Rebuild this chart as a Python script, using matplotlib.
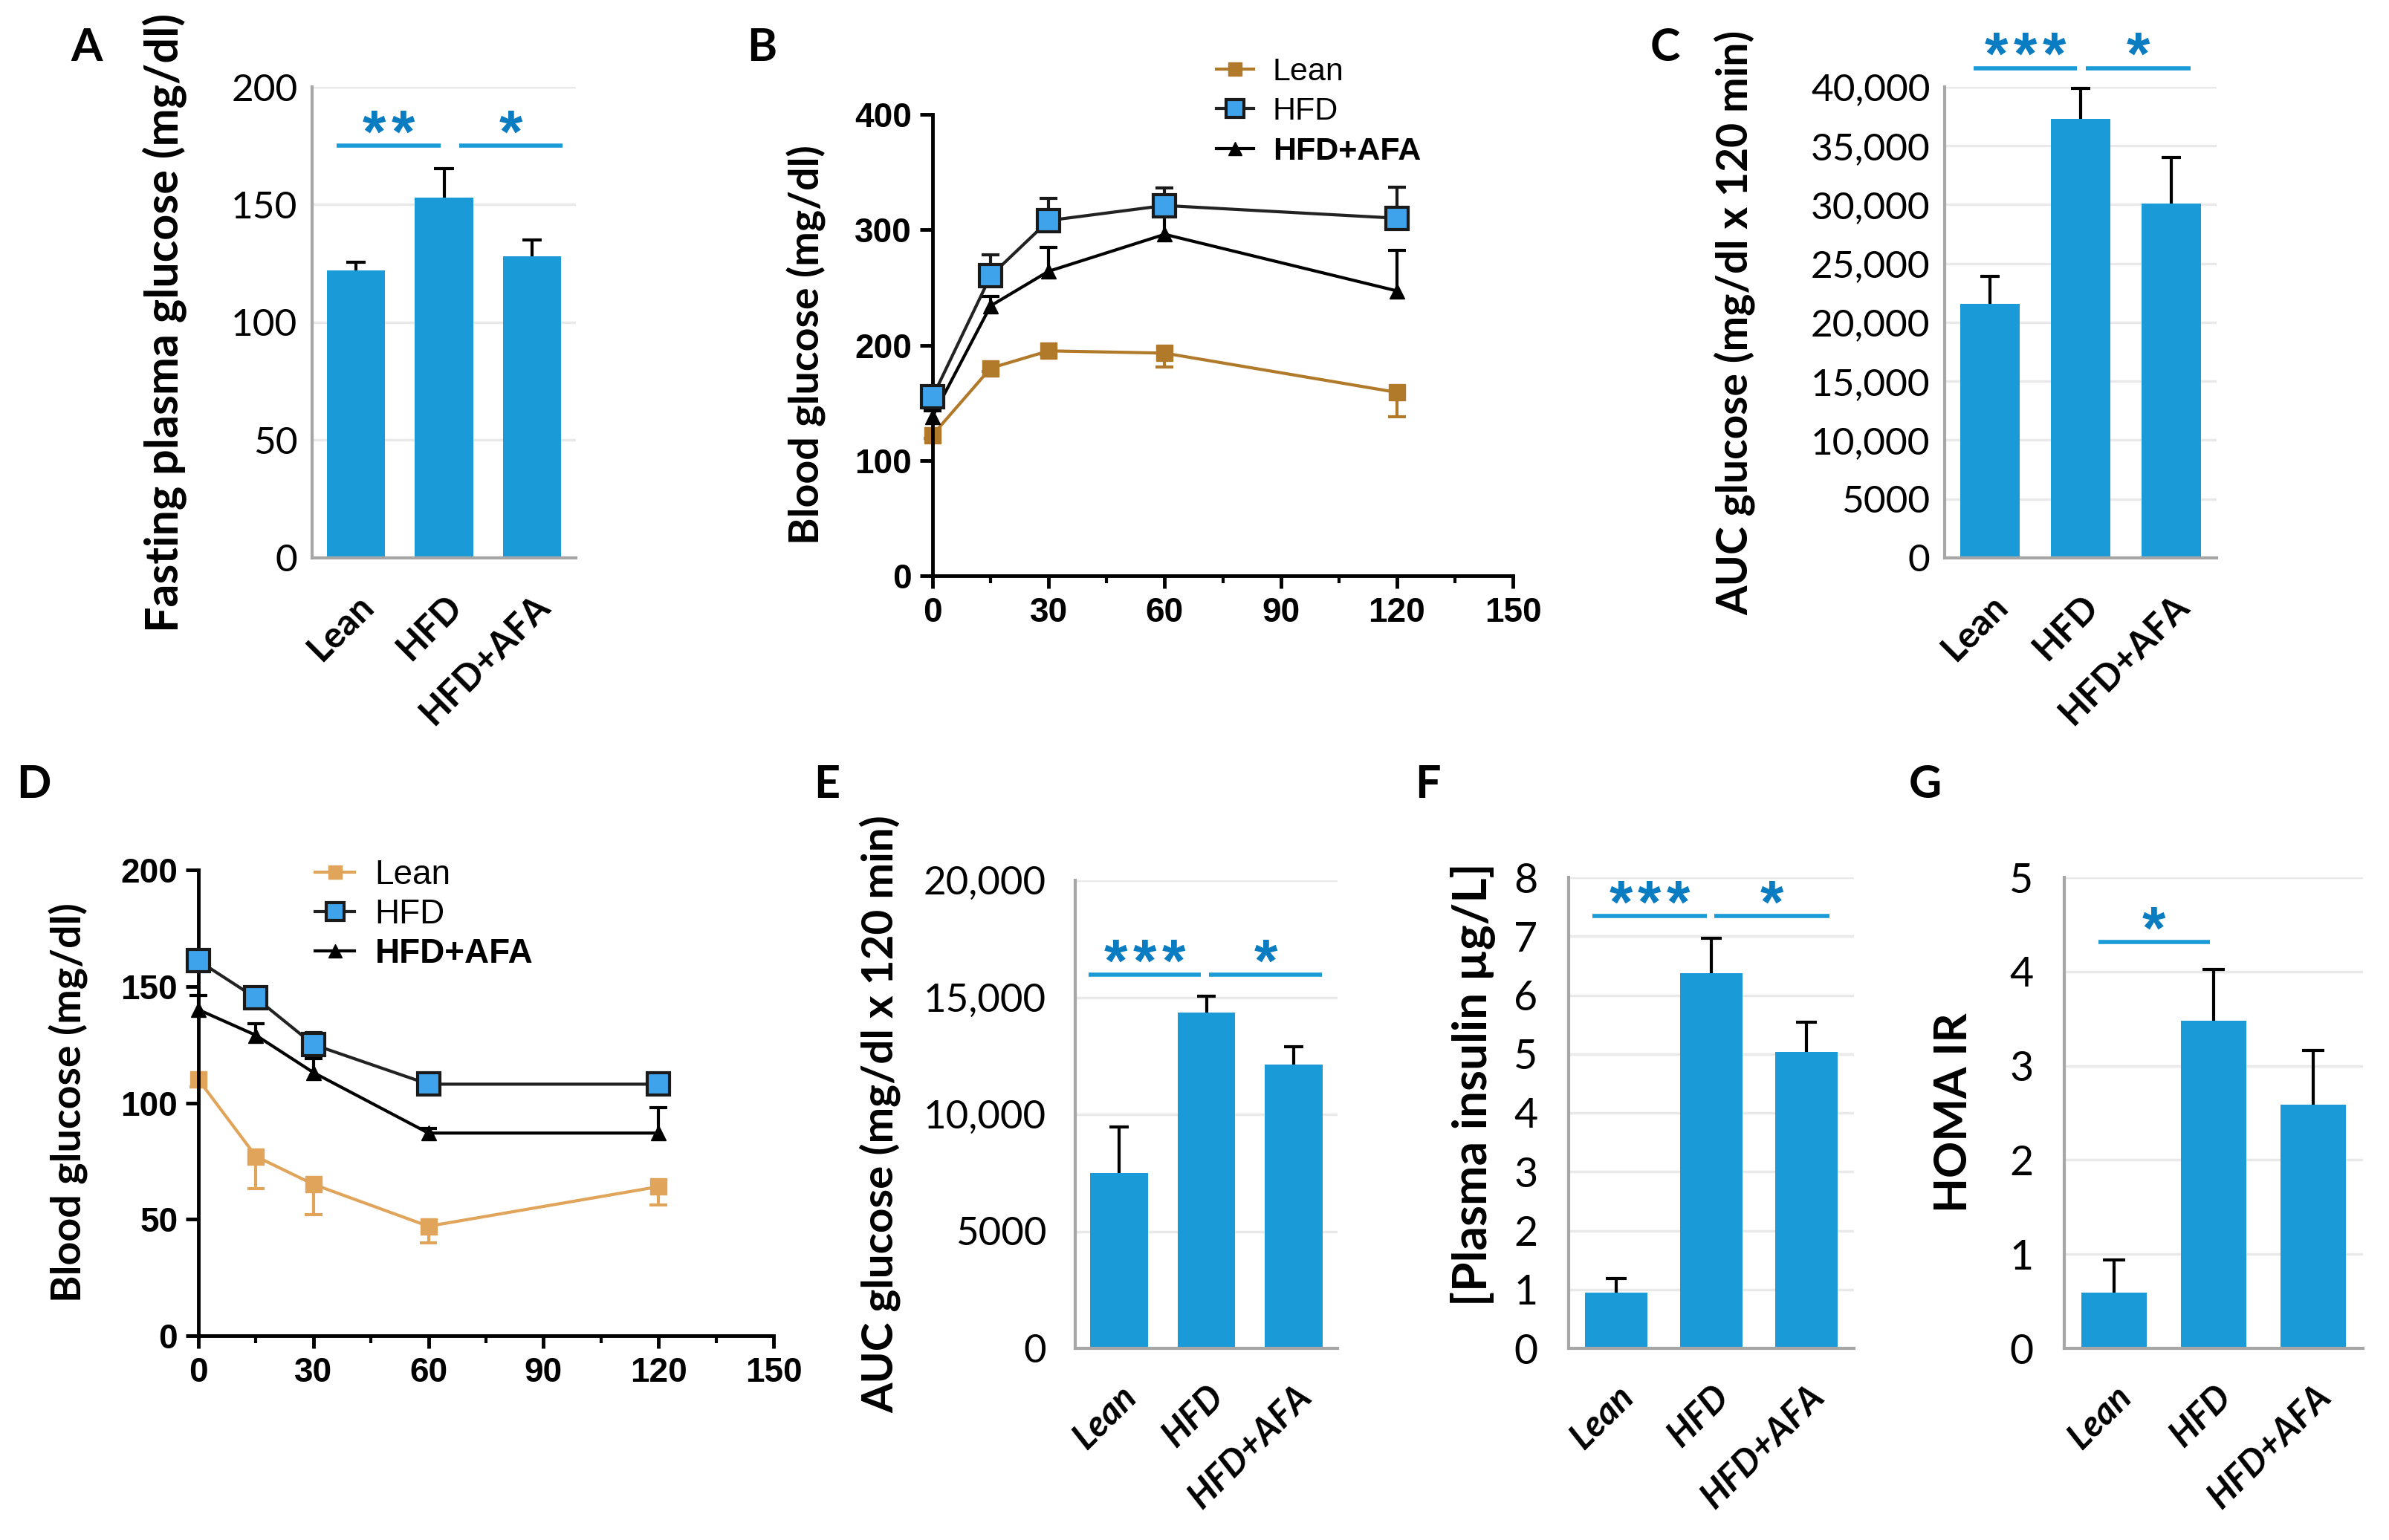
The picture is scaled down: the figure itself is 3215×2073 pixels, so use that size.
import numpy as np
import matplotlib.pyplot as plt
from matplotlib.ticker import MultipleLocator

W, H = 3215, 2073

groups = ["Lean", "HFD", "HFD+AFA"]
bar_blue = "#1a9ad7"
star_blue = "#0a7cc1"

# panel A: fasting plasma glucose
fpg = [122, 153, 128]
fpg_err = [3.5, 12.3, 7]

# panel B: glucose tolerance test
t = [0, 15, 30, 60, 120]
gtt_lean = [122, 180, 195, 193, 159]
gtt_lean_err = [3, 3, 3, 12, 21]
gtt_hfd = [155, 260, 308, 321, 310]
gtt_hfd_err = [3, 18, 19, 15, 27]
gtt_afa = [138, 234, 264, 296, 247]
gtt_afa_err = [5, 8, 21, 20, 35]

# panel C: AUC of GTT
auc_gtt = [21550, 37280, 30100]
auc_gtt_err = [2370, 2610, 3900]

# panel D: insulin tolerance test
itt_lean = [110, 77, 65, 47, 64]
itt_lean_err = [3, 14, 13, 7, 8]
itt_hfd = [161, 145, 125, 108, 108]
itt_hfd_err = [3, 2, 5, 3, 2]
itt_afa = [140, 129, 113, 87, 87]
itt_afa_err = [6, 5, 6, 2, 11]

# panel E: AUC of ITT
auc_itt = [7500, 14340, 12130]
auc_itt_err = [1960, 710, 770]

# panel F: plasma insulin
insulin = [0.95, 6.37, 5.03]
insulin_err = [0.24, 0.59, 0.51]

# panel G: HOMA IR
homa = [0.59, 3.48, 2.59]
homa_err = [0.35, 0.54, 0.57]

fig = plt.figure(figsize=(W / 100, H / 100), dpi=100)

CAL = ["Lato", "DejaVu Sans"]
ARIAL = ["Liberation Sans", "DejaVu Sans"]


def px_axes(l, t_, r, b):
    return fig.add_axes([l / W, 1 - b / H, (r - l) / W, (b - t_) / H])


def letter(x, y, s):
    fig.text(x / W, 1 - y / H, s, fontsize=44, fontweight="bold", family=CAL,
             ha="center", va="center")


def one_sided(ax, x, y, err, half, color, up=True, z=3):
    # error bar drawn on one side only, cap at the far end
    x = np.asarray(x, float)
    y = np.asarray(y, float)
    err = np.asarray(err, float)
    end = y + err if up else y - err
    ax.vlines(x, y, end, color=color, lw=3, zorder=z, clip_on=False)
    ax.hlines(end, x - half, x + half, color=color, lw=3, zorder=z, clip_on=False)


def bar_panel(rect, vals, errs, ymax, step, fmt, ylabel, ylab_x, sigs,
              tick_size=37, ypad=14, ylab_size=44, ylab_y=0.5, xlab_style="normal"):
    ax = px_axes(*rect)
    x = np.arange(len(groups))
    ax.bar(x, vals, width=0.66, color=bar_blue, zorder=2)
    one_sided(ax, x, vals, errs, 0.11, "black")
    ax.set_xlim(-0.5, 2.5)
    ax.set_ylim(0, ymax)
    ticks = np.arange(0, ymax + step / 2, step)
    ax.set_yticks(ticks)
    ax.set_yticklabels([fmt(v) for v in ticks], fontsize=tick_size, family=CAL)
    ax.set_xticks(x)
    ax.set_xticklabels(groups, rotation=45, ha="right", rotation_mode="anchor",
                       fontsize=35, fontweight="bold", family=CAL, style=xlab_style)
    ax.tick_params(axis="both", length=0)
    ax.tick_params(axis="x", pad=30)
    ax.tick_params(axis="y", pad=ypad)
    ax.yaxis.grid(True, color="#e9e9e9", lw=2.5)
    ax.set_axisbelow(True)
    for s in ["top", "right"]:
        ax.spines[s].set_visible(False)
    for s in ["left", "bottom"]:
        ax.spines[s].set_color("#a6a6a6")
        ax.spines[s].set_linewidth(3)
    ax.set_ylabel(ylabel, fontsize=ylab_size, fontweight="bold", family=CAL)
    ax.yaxis.set_label_coords((ylab_x - rect[0]) / (rect[2] - rect[0]), ylab_y)
    for x0, x1, y, nstars in sigs:
        ax.plot([x0, x1], [y, y], color=bar_blue, lw=4, clip_on=False, solid_capstyle="butt")
        for i in range(nstars):
            ax.annotate("*", xy=((x0 + x1) / 2, y),
                        xytext=((i - (nstars - 1) / 2) * 28, -6), textcoords="offset points",
                        color=star_blue, fontsize=58, fontweight="bold", family=ARIAL,
                        ha="center", va="baseline", annotation_clip=False)
    return ax


def line_panel(rect, ymax, ystep, lean, lean_err, hfd, hfd_err, afa, afa_err,
               lean_col, ylabel, ylab_x, leg_pos, leg_size, spacing):
    ax = px_axes(*rect)
    one_sided(ax, t, lean, lean_err, 2.3, lean_col, up=False, z=2)
    one_sided(ax, t, afa, afa_err, 2.3, "black", up=True, z=3)
    one_sided(ax, t, hfd, hfd_err, 2.3, "#1a1a1a", up=True, z=4)
    ax.plot(t, lean, color=lean_col, lw=3, marker="s", ms=16, mec=lean_col,
            label="Lean", zorder=2, clip_on=False)
    ax.plot(t, hfd, color="#222222", lw=3, marker="s", ms=21, mfc="#3ea3ea",
            mec="#1a1a1a", mew=3, label="HFD", zorder=5, clip_on=False)
    ax.plot(t, afa, color="black", lw=3, marker="^", ms=15, label="HFD+AFA",
            zorder=4, clip_on=False)
    ax.set_xlim(0, 150)
    ax.set_ylim(0, ymax)
    ax.xaxis.set_major_locator(MultipleLocator(30))
    ax.xaxis.set_minor_locator(MultipleLocator(15))
    ax.yaxis.set_major_locator(MultipleLocator(ystep))
    for s in ["top", "right"]:
        ax.spines[s].set_visible(False)
    for s in ["left", "bottom"]:
        ax.spines[s].set_linewidth(3.5)
    ax.tick_params(which="major", length=12, width=3.5, labelsize=33, pad=8)
    ax.tick_params(which="minor", length=7, width=3)
    for lab in ax.get_xticklabels() + ax.get_yticklabels():
        lab.set_fontweight("bold")
        lab.set_family(ARIAL)
    ax.set_ylabel(ylabel, fontsize=40, fontweight="bold", family=CAL)
    ax.yaxis.set_label_coords((ylab_x - rect[0]) / (rect[2] - rect[0]), 0.5)
    leg = ax.legend(frameon=False, loc="upper left", bbox_to_anchor=leg_pos,
                    prop={"family": ARIAL, "size": leg_size},
                    handlelength=1.15, handletextpad=0.6, labelspacing=spacing, markerscale=0.85)
    leg.get_texts()[2].set_fontweight("bold")
    return ax


def comma_fmt(v):
    return "0" if v == 0 else (f"{v:.0f}" if v < 10000 else f"{v:,.0f}")


# A
bar_panel((420, 117, 775, 751), fpg, fpg_err, 200, 50, lambda v: f"{v:.0f}",
          "Fasting plasma glucose (mg/dl)", 252,
          [(-0.22, 0.96, 175, 2), (1.17, 2.35, 175, 1)])
letter(117, 64, "A")

# B
line_panel((1255, 154, 2036, 775), 400, 100, gtt_lean, gtt_lean_err, gtt_hfd, gtt_hfd_err,
           gtt_afa, gtt_afa_err, "#b07a2a", "Blood glucose (mg/dl)", 1112, (0.44, 1.187), 31, 0.32)
letter(1025, 64, "B")

# C
bar_panel((2617, 117, 2983, 751), auc_gtt, auc_gtt_err, 40000, 5000, comma_fmt,
          "AUC glucose (mg/dl x 120 min)", 2362,
          [(-0.18, 0.96, 41600, 3), (1.06, 2.21, 41600, 1)], ylab_size=41)
letter(2241, 64, "C")

# D
line_panel((267, 1171, 1041, 1798), 200, 50, itt_lean, itt_lean_err, itt_hfd, itt_hfd_err,
           itt_afa, itt_afa_err, "#e0a45a", "Blood glucose (mg/dl)", 119, (0.15, 1.09), 33, 0.2)
letter(45, 1056, "D")

# E
bar_panel((1447, 1185, 1800, 1815), auc_itt, auc_itt_err, 20000, 5000, comma_fmt,
          "AUC glucose (mg/dl x 120 min)", 1212,
          [(-0.35, 0.94, 15960, 3), (1.03, 2.32, 15960, 1)],
          tick_size=38, ypad=28, ylab_size=42, xlab_style="italic")
letter(1113, 1056, "E")

# F
bar_panel((2111, 1181, 2495, 1815), insulin, insulin_err, 8, 1, lambda v: f"{v:.0f}",
          "[Plasma insulin \u00b5g/L]", 2012,
          [(-0.25, 0.95, 7.34, 3), (1.03, 2.24, 7.34, 1)],
          tick_size=40, ypad=30, ylab_size=46, ylab_y=0.56, xlab_style="italic")
letter(1921, 1056, "F")

# G
bar_panel((2778, 1181, 3180, 1815), homa, homa_err, 5, 1, lambda v: f"{v:.0f}",
          "HOMA IR", 2657, [(-0.16, 0.96, 4.31, 1)],
          tick_size=40, ypad=30, ylab_size=44, xlab_style="italic")
letter(2591, 1056, "G")

fig.savefig("out.png", dpi=100)
